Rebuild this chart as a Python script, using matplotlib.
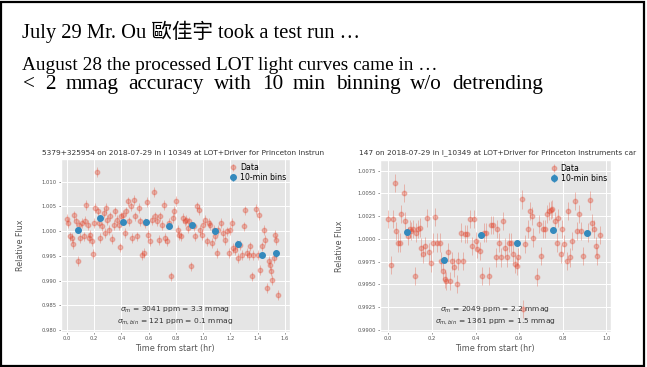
import numpy as np
import matplotlib
matplotlib.use("Agg")
import matplotlib.pyplot as plt
from matplotlib.patches import Rectangle

plt.style.use("ggplot")

# ---- left light curve ----
t1 = [0.000, 0.007, 0.020, 0.034, 0.044, 0.054, 0.066, 0.078, 0.090, 0.098,
      0.110, 0.122, 0.134, 0.142, 0.154, 0.164, 0.171, 0.183, 0.191, 0.198,
      0.208, 0.220, 0.227, 0.237, 0.244, 0.257, 0.269, 0.276, 0.289, 0.296,
      0.311, 0.318, 0.330, 0.342, 0.355, 0.367, 0.379, 0.391, 0.399,
      0.411, 0.423, 0.435, 0.445, 0.457, 0.469, 0.479, 0.489, 0.499,
      0.513, 0.526, 0.538, 0.550, 0.562, 0.575, 0.587, 0.594,
      0.611, 0.623, 0.636, 0.648, 0.660, 0.672, 0.685, 0.697,
      0.709, 0.721, 0.733, 0.746, 0.765, 0.778, 0.787, 0.797,
      0.812, 0.824, 0.836, 0.851, 0.863, 0.875, 0.888, 0.897,
      0.912, 0.929, 0.941, 0.954, 0.966, 0.978, 0.990, 1.002,
      1.015, 1.027, 1.039, 1.051, 1.064, 1.076, 1.088, 1.100,
      1.112, 1.130, 1.144, 1.161, 1.174, 1.186, 1.198,
      1.210, 1.222, 1.235, 1.247, 1.259, 1.271, 1.284, 1.296,
      1.308, 1.320, 1.333, 1.345, 1.357, 1.369, 1.386, 1.399,
      1.406, 1.418, 1.430, 1.443, 1.455, 1.467, 1.482, 1.491, 1.499, 1.504,
      1.516, 1.528, 1.535, 1.548]
f1 = [1.00242, 1.00162, 0.99892, 0.99859, 0.99738, 1.00316, 1.00195, 0.99388, 1.00128, 0.99859,
      1.00162, 0.99892, 1.00209, 1.00532, 1.00128, 0.99859, 0.99926, 0.99791, 0.99536, 1.00162,
      1.00464, 1.01191, 1.00397, 1.00162, 0.99859, 1.00094, 1.00363, 0.99960, 1.00464, 1.00229,
      1.00027, 1.00296, 0.99838, 1.00128, 1.00397, 1.00229, 1.00128, 0.99670, 1.00296,
      1.00330, 0.99960, 1.00397, 1.00599, 1.00195, 1.00498, 0.99859, 1.00633, 1.00296,
      0.99892, 1.00464, 1.00195, 0.99522, 0.99556, 1.00162, 1.00579, 0.99926,
      0.99791, 1.00229, 1.00781, 1.00296, 1.00195, 0.99825, 1.00296, 1.00128,
      1.00532, 0.99859, 0.99791, 1.00162, 0.99085, 1.00262, 1.00410, 1.00612,
      1.00027, 0.99926, 0.99892, 1.00262, 1.00195, 1.00229, 1.00061, 1.00195,
      0.99287, 1.00094, 0.99892, 1.00498, 1.00431, 1.00027, 0.99926, 1.00128,
      1.00229, 0.99791, 1.00162, 1.00128, 0.99758, 1.00027, 0.99892, 0.99556,
      1.00027, 1.00162, 0.99960, 0.99825, 0.99993, 0.99556, 1.00027,
      1.00162, 0.99657, 0.99623, 0.99724, 0.99455, 0.99724, 0.99522, 1.00094,
      1.00417, 0.99556, 0.99522, 0.99690, 0.99085, 0.99522, 1.00451, 0.99522,
      1.00330, 0.99219, 0.99690, 1.00027, 0.99825, 0.98849, 0.99388, 0.99320, 0.99186, 0.99017,
      0.99455, 0.99926, 0.99825, 0.98715]
bin_t1 = [0.078, 0.244, 0.410, 0.580, 0.750, 0.920, 1.090, 1.257, 1.428, 1.533]
bin_f1 = [1.00027, 1.00256, 1.00188, 1.00188, 1.00094, 1.00114, 1.00000, 0.99738, 0.99509, 0.99549]
bin_e1 = [0.0003, 0.0003, 0.0003, 0.0003, 0.0003, 0.0003, 0.0003, 0.0003, 0.0003, 0.0008]

# ---- right light curve ----
t2 = [0.000, 0.011, 0.020, 0.029, 0.037, 0.044, 0.052, 0.060, 0.072, 0.078, 0.090, 0.098,
      0.106, 0.113, 0.121, 0.129, 0.136, 0.144, 0.152, 0.159, 0.167, 0.178, 0.187, 0.194,
      0.205, 0.216, 0.225, 0.236, 0.243, 0.251, 0.259, 0.266, 0.274, 0.282, 0.292, 0.302, 0.314,
      0.320, 0.332, 0.343, 0.354, 0.363, 0.374, 0.384, 0.394, 0.400,
      0.409, 0.420, 0.430, 0.440, 0.450, 0.462, 0.473, 0.481, 0.492, 0.499,
      0.507, 0.516, 0.527, 0.534, 0.544, 0.553, 0.562, 0.573, 0.580, 0.588, 0.596,
      0.611, 0.620, 0.629, 0.639, 0.649, 0.657, 0.665, 0.680, 0.691, 0.700,
      0.711, 0.718, 0.726, 0.737, 0.746, 0.752, 0.764, 0.772, 0.779, 0.790, 0.798,
      0.807, 0.818, 0.825, 0.833, 0.844, 0.856, 0.867, 0.876, 0.884, 0.894,
      0.914, 0.923, 0.933, 0.943, 0.951, 0.959, 0.971]
f2 = [1.00215, 0.99716, 1.00222, 1.00615, 1.00087, 0.99960, 0.99960, 1.00269, 1.00506, 1.00197, 1.00033, 1.00106,
      1.00087, 1.00106, 0.99589, 1.00069, 1.00106, 1.00124, 0.99905, 0.99833, 0.99924, 1.00233, 0.99851, 0.99731,
      0.99960, 1.00240, 0.99960, 0.99960, 0.99760, 0.99651, 0.99560, 0.99541, 0.99851, 0.99541, 0.99760, 0.99687, 0.99505,
      0.99760, 1.00069, 0.99760, 1.00051, 1.00051, 1.00215, 0.99924, 1.00215, 0.99978,
      0.99887, 0.99869, 0.99596, 1.00069, 1.00069, 0.99596, 1.00153, 1.00153, 0.99796, 1.00106,
      0.99960, 0.99796, 1.00197, 0.99905, 0.99796, 0.99960, 0.99960, 0.99833, 0.99723, 0.99705, 0.99796,
      1.00433, 0.99232, 0.99942, 1.00106, 1.00306, 1.00251, 1.00015, 0.99578, 1.00160, 0.99814,
      1.00106, 1.00106, 1.00269, 1.00306, 1.00313, 1.00324, 1.00197, 0.99960, 1.00233, 0.99833, 1.00106,
      0.99942, 0.99760, 1.00306, 0.99796, 0.99978, 1.00415, 1.00087, 1.00269, 1.00087, 0.99814,
      1.00069, 1.00422, 1.00178, 1.00106, 0.99924, 0.99814, 1.00044]
bin_t2 = [0.086, 0.257, 0.424, 0.591, 0.757, 0.910]
bin_f2 = [1.00073, 0.99771, 1.00044, 0.99953, 1.00098, 1.00066]
bin_e2 = [0.0003, 0.0003, 0.0003, 0.0003, 0.0003, 0.0003]

title1 = "5379+325954 on 2018-07-29 in I 10349 at LOT+Driver for Princeton Instrun"
title2 = "147 on 2018-07-29 in I_10349 at LOT+Driver for Princeton Instruments car"
stats1 = [r"$\sigma_m$ = 3041 ppm = 3.3 mmag", r"$\sigma_{m,bin}$ = 121 ppm = 0.1 mmag"]
stats2 = [r"$\sigma_m$ = 2049 ppm = 2.2 mmag", r"$\sigma_{m,bin}$ = 1361 ppm = 1.5 mmag"]

W, H = 647, 367
fig = plt.figure(figsize=(W / 100, H / 100), dpi=100, facecolor="white")


def px(x, y):
    return x / W, 1 - y / H


def panel(rect, t, f, bt, bf, be, xlim, ylim, xticks, yticks, yfmt, stats, title, title_x):
    ax = fig.add_axes(rect)
    ax.errorbar(t, f, yerr=0.001, fmt="o", color="#E24A33", alpha=0.33,
                ms=3.2, elinewidth=0.7, capsize=0, label="Data")
    ax.errorbar(bt, bf, yerr=be, fmt="o", color="#348ABD",
                ms=4.0, elinewidth=1.0, capsize=0, label="10-min bins")
    ax.set_xlim(*xlim)
    ax.set_ylim(*ylim)
    ax.set_xticks(xticks)
    ax.set_xticklabels(["%.1f" % v for v in xticks])
    ax.set_yticks(yticks)
    ax.set_yticklabels([yfmt % v for v in yticks])
    ax.tick_params(labelsize=3.8, colors="#555555", length=1.5, width=0.5, pad=1.5)
    ax.grid(color="white", linewidth=0.7)
    ax.set_xlabel("Time from start (hr)", fontsize=5.8, color="#555555", labelpad=2.5)
    ax.set_ylabel("Relative Flux", fontsize=5.8, color="#555555")
    ax.yaxis.set_label_coords(-0.155, 0.5)
    ax.text(0.5, 0.128, stats[0], transform=ax.transAxes, ha="center", va="center",
            fontsize=5.4, color="#333333")
    ax.text(0.5, 0.064, stats[1], transform=ax.transAxes, ha="center", va="center",
            fontsize=5.4, color="#333333")
    ax.legend(loc="upper right", frameon=False, fontsize=5.6, handletextpad=0.3,
              borderaxespad=0.2, labelspacing=0.12, handlelength=1.2, borderpad=0.3)
    fx, fy = px(title_x, 153)
    fig.text(fx, fy, title, fontsize=5.3, color="#333333", ha="left", va="center")
    return ax


panel([60.7 / W, 35.3 / H, 229.3 / W, 172.4 / H], t1, f1, bin_t1, bin_f1, bin_e1,
      (-0.046, 1.637), (0.9797, 1.0145), np.arange(0, 1.61, 0.2),
      np.arange(0.980, 1.0101, 0.005), "%.3f", stats1, title1, 42)
panel([380 / W, 35.3 / H, 230.7 / W, 171.7 / H], t2, f2, bin_t2, bin_f2, bin_e2,
      (-0.038, 1.020), (0.98981, 1.00866), np.arange(0, 1.01, 0.2),
      np.arange(0.9900, 1.00751, 0.0025), "%.4f", stats2, title2, 359)

# slide text
serif = ["Liberation Serif", "Noto Sans CJK TC"]
lines = [("July 29 Mr. Ou 歐佳宇 took a test run …", 21.5, 37.7, 14.8),
         ("August 28 the processed LOT light curves came in …", 21.5, 70.0, 13.9)]
for txt, x, y, size in lines:
    fx, fy = px(x, y)
    fig.text(fx, fy, txt, family=serif, fontsize=size, color="black",
             ha="left", va="baseline")

# third line is set wider on the slide: place its words so the line spans 23..543 px
line3 = "< 2 mmag accuracy with 10 min binning w/o detrending"
size3 = 15.3
x0, x1, base3 = 23.0, 543.0, 89.3
renderer = fig.canvas.get_renderer()


def text_width(s):
    tmp = fig.text(0, 0, s, family=serif, fontsize=size3)
    w = tmp.get_window_extent(renderer).width
    tmp.remove()
    return w


gap = text_width("a a") - text_width("aa")
placed = []
offset = 0.0
for w in line3.split(" "):
    ww = text_width(w)
    placed.append((w, offset))
    offset += ww + gap
natural = offset - gap
extra = ((x1 - x0) - natural) / (len(placed) - 1)
for i, (w, off) in enumerate(placed):
    fx, fy = px(x0 + off + i * extra, base3)
    fig.text(fx, fy, w, family=serif, fontsize=size3, color="black",
             ha="left", va="baseline")

# slide frame
fig.patches.append(Rectangle((0.002, 0.004), 0.994, 0.991, transform=fig.transFigure,
                             fill=False, edgecolor="black", linewidth=1.6))

fig.savefig("out.png", dpi=100, facecolor="white")
